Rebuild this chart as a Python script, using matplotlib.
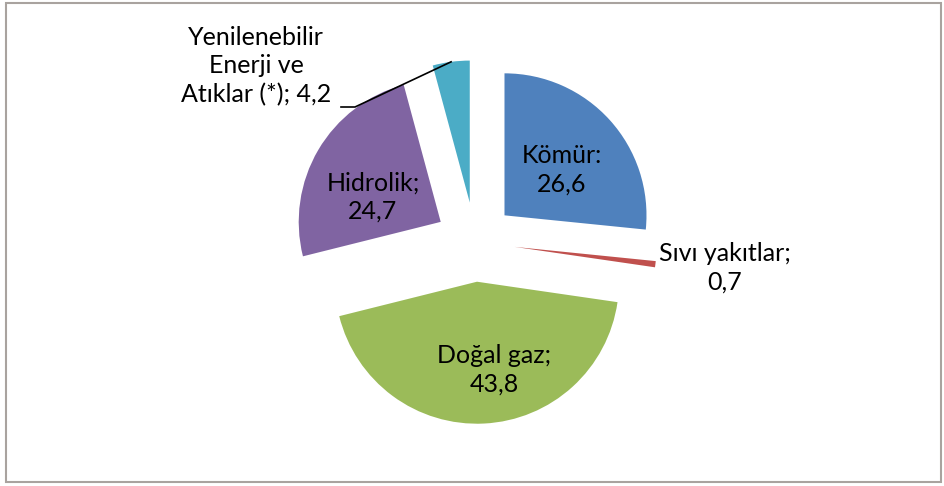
import numpy as np
import matplotlib.pyplot as plt
from matplotlib.patches import Rectangle

# Elektrik üretiminde kaynak payları (%)
kaynaklar = ['Kömür', 'Sıvı yakıtlar', 'Doğal gaz', 'Hidrolik', 'Yenilenebilir\nEnerji ve\nAtıklar (*)']
paylar = [26.6, 0.7, 43.8, 24.7, 4.2]
renkler = ['#4F81BD', '#C0504D', '#9BBB59', '#8064A2', '#4BACC6']

W, H = 945, 486
cx, cy, R = 475, 242, 142   # pasta merkezi ve yaricapi (piksel)


def px(x, y):
    # piksel -> veri koordinati
    return (x - cx) / R, (cy - y) / R


fig = plt.figure(figsize=(W / 100, H / 100), dpi=100)
ax = fig.add_axes([0, 0, 1, 1])

wedges, _ = ax.pie(paylar, colors=renkler, startangle=90, counterclock=False,
                   explode=[0.28] * len(paylar), radius=1,
                   wedgeprops=dict(linewidth=0))
ax.set_aspect('auto')
ax.set_xlim(px(0, 0)[0], px(W, 0)[0])
ax.set_ylim(px(0, H)[1], px(0, 0)[1])
ax.axis('off')

etiketler = [f"{k}; {str(p).replace('.', ',')}" for k, p in zip(kaynaklar, paylar)]
etiketler[0] = f"Kömür:\n{str(paylar[0]).replace('.', ',')}"
etiketler[1] = f"Sıvı yakıtlar;\n{str(paylar[1]).replace('.', ',')}"
etiketler[2] = f"Doğal gaz;\n{str(paylar[2]).replace('.', ',')}"
etiketler[3] = f"Hidrolik;\n{str(paylar[3]).replace('.', ',')}"

konumlar = [(562, 170), (725, 268), (494, 370), (373, 197), (256, 66)]
fp = dict(family=['Lato', 'DejaVu Sans'], fontsize=18, color='black', linespacing=1.3)
for et, (x, y) in zip(etiketler, konumlar):
    ax.text(*px(x, y), et, ha='center', va='center', **fp)

# Yenilenebilir dilimine kilavuz cizgi
w = wedges[4]
tm = np.deg2rad((w.theta1 + w.theta2) / 2)
ux, uy = w.center
uc = (ux + w.r * np.cos(tm), uy + w.r * np.sin(tm))
p1 = px(341, 107)
p2 = px(355, 107)
ax.plot([p1[0], p2[0], uc[0]], [p1[1], p2[1], uc[1]], color='black', lw=1.2)

# cerceve
fig.patches.append(Rectangle((6 / W, 4 / H), 935 / W, 479 / H, transform=fig.transFigure,
                             fill=False, edgecolor='#a9a39f', lw=1.5))

fig.savefig('out.png', dpi=100, facecolor='white')
